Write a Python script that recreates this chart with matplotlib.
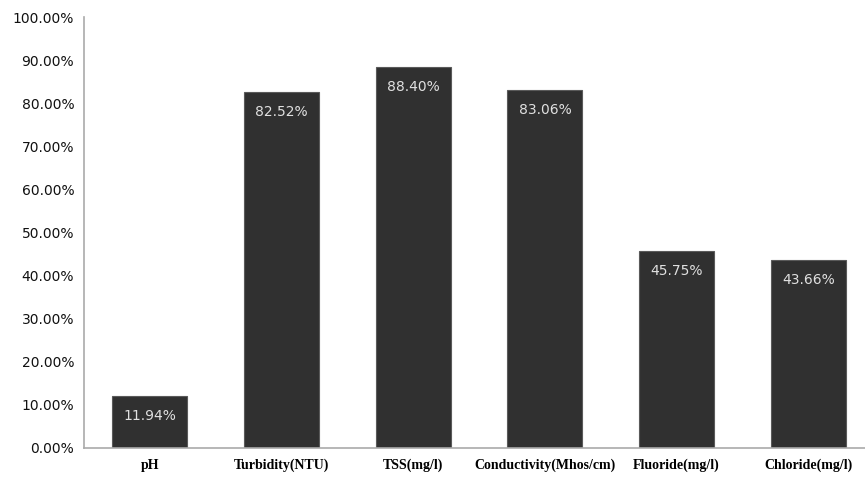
import numpy as np
import matplotlib.pyplot as plt
from matplotlib.ticker import FuncFormatter

tick_labels = ['pH', 'Turbidity(NTU)', 'TSS(mg/l)', 'Conductivity(Mhos/cm)', 'Fluoride(mg/l)', 'Chloride(mg/l)']
values = [11.94, 82.52, 88.40, 83.06, 45.75, 43.66]

fig = plt.figure(figsize=(8.65, 4.78), dpi=100)
ax = fig.add_axes([0.097, 0.063, 0.903, 0.901])

x = np.arange(len(tick_labels))
bars = ax.bar(x, values, width=0.57, color='#303030', edgecolor='#5a5a5a', linewidth=0.8)

for b, v in zip(bars, values):
    ax.text(b.get_x() + b.get_width() / 2, v - 3.0, f'{v:.2f}%',
            ha='center', va='top', color='#e0e0e0', fontsize=10, family='DejaVu Sans')

ax.set_xlim(-0.5, 5.43)
ax.set_ylim(0, 100)
ax.set_yticks(np.arange(0, 101, 10))
ax.yaxis.set_major_formatter(FuncFormatter(lambda v, p: f'{v:.2f}%'))
ax.set_xticks(x)
ax.set_xticklabels(tick_labels, family='Liberation Serif', fontweight='bold', fontsize=10)
for lbl in ax.get_yticklabels():
    lbl.set_fontsize(10)
    lbl.set_color('#111111')

ax.tick_params(axis='both', length=0)
ax.tick_params(axis='y', pad=7)
ax.tick_params(axis='x', pad=8)
for s in ['top', 'right']:
    ax.spines[s].set_visible(False)
for s in ['left', 'bottom']:
    ax.spines[s].set_color('#aaaaaa')
    ax.spines[s].set_linewidth(1.2)

fig.savefig('out.png', dpi=100)
